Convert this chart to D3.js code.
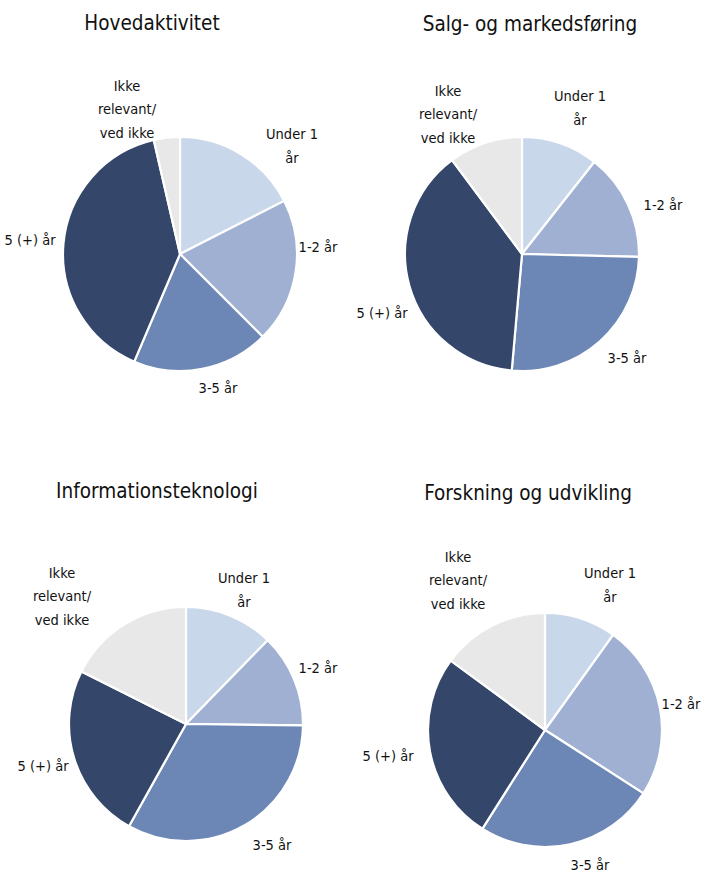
<!DOCTYPE html>
<html>
<head>
<meta charset="utf-8">
<script src="https://cdn.jsdelivr.net/npm/d3@7"></script>
<style>
  body { margin: 0; background: #fff; }
  text { font-family: "DejaVu Sans Condensed", "Open Sans", sans-serif; fill: #111; }
</style>
</head>
<body>
<div class="canvas"></div>
<script>
// data
const categories = ["Under 1 år", "1-2 år", "3-5 år", "5 (+) år", "Ikke relevant/ved ikke"];
const labelLines = [["Under 1", "år"], ["1-2 år"], ["3-5 år"], ["5 (+) år"], ["Ikke", "relevant/", "ved ikke"]];
const titles = ["Hovedaktivitet", "Salg- og markedsføring", "Informationsteknologi", "Forskning og udvikling"];
const hovedaktivitet = [17.5, 20.0, 18.9, 40.0, 3.6];
const salgMarkedsforing = [10.6, 14.8, 26.0, 38.4, 10.2];
const informationsteknologi = [12.3, 12.9, 32.9, 24.3, 17.6];
const forskningUdvikling = [9.9, 24.2, 24.9, 26.1, 14.9];
const colors = ["#c9d7ea", "#9fb0d3", "#6c87b6", "#344669", "#e8e8e8"];

// layout
const w = 708, h = 875;
const radius = 117;
const panels = [
  { values: hovedaktivitet, cx: 180, cy: 254, titleX: 152, titleY: 30,
    labels: [[112, -108], [138, -7], [38, 134], [-150, -14], [-53, -145]] },
  { values: salgMarkedsforing, cx: 522, cy: 254, titleX: 530, titleY: 31,
    labels: [[58, -146], [141, -49], [105, 104], [-140, 59], [-74, -140]] },
  { values: informationsteknologi, cx: 186, cy: 724, titleX: 157, titleY: 498,
    labels: [[58, -134], [132, -56], [86, 121], [-143, 42], [-124, -128]] },
  { values: forskningUdvikling, cx: 545, cy: 730, titleX: 528, titleY: 500,
    labels: [[65, -145], [136, -26], [45, 135], [-157, 26], [-87, -150]] }
];
const lineH = 23.5;

const svg = d3.select(".canvas").append("svg").attr("width", w).attr("height", h);

const pie = d3.pie().sort(null).value(d => d);
const arc = d3.arc().innerRadius(0).outerRadius(radius);

panels.forEach((p, i) => {
  const g = svg.append("g").attr("transform", `translate(${p.cx}, ${p.cy})`);

  g.selectAll("path")
    .data(pie(p.values))
    .enter()
    .append("path")
    .attr("d", arc)
    .attr("fill", (d, j) => colors[j])
    .attr("stroke", "#fff")
    .attr("stroke-width", 2.2)
    .attr("stroke-linejoin", "round");

  // slice labels
  labelLines.forEach((lines, j) => {
    const [lx, ly] = p.labels[j];
    const t = g.append("text")
      .attr("text-anchor", "middle")
      .attr("font-size", 14.5);
    lines.forEach((line, k) => {
      t.append("tspan")
        .attr("x", lx)
        .attr("y", ly + (k - (lines.length - 1) / 2) * lineH + 5.2)
        .text(line);
    });
  });

  // title
  svg.append("text")
    .attr("x", p.titleX)
    .attr("y", p.titleY)
    .attr("text-anchor", "middle")
    .attr("font-size", 20.5)
    .text(titles[i]);
});
</script>
</body>
</html>
